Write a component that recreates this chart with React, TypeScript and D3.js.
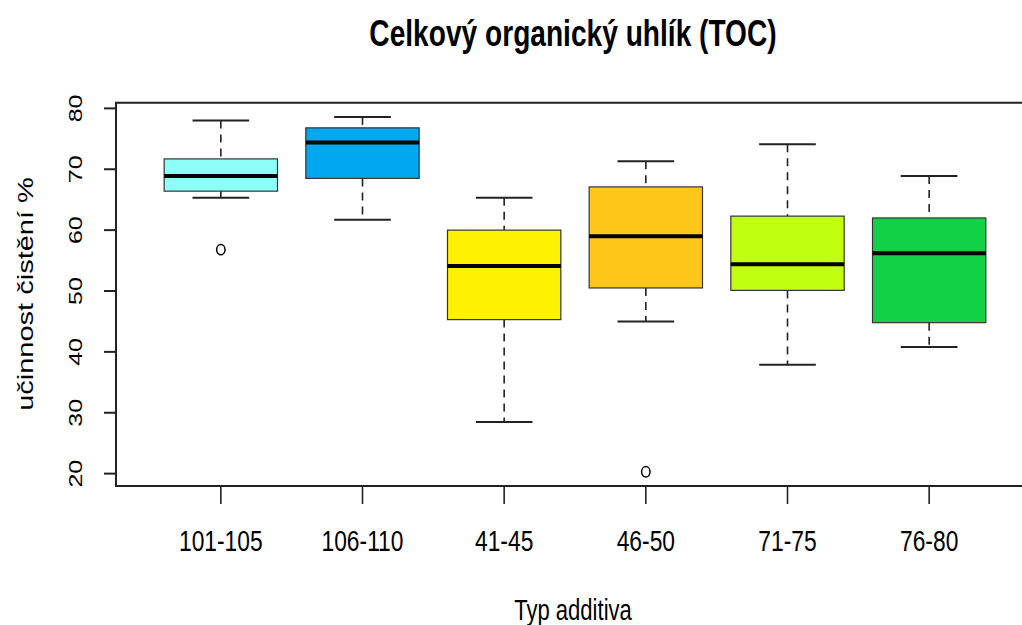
import React from 'react';
import * as d3 from 'd3';

// box statistics
const categories = ['101-105', '106-110', '41-45', '46-50', '71-75', '76-80'];
const whiskerLow = [65.3, 61.7, 28.5, 45.0, 37.9, 40.8];
const q1 = [66.4, 68.5, 45.3, 50.5, 50.1, 44.8];
const medians = [68.9, 74.4, 54.1, 59.0, 54.4, 56.2];
const q3 = [71.7, 76.8, 60.0, 67.1, 62.3, 62.0];
const whiskerHigh = [78.0, 78.6, 65.3, 71.3, 74.1, 68.9];
const outlierCat = [0, 3];
const outlierVal = [56.8, 20.3];
const yTicks = [20, 30, 40, 50, 60, 70, 80];
const fills = ['#8cfff7', '#00a8f0', '#fff200', '#ffc819', '#c0ff10', '#12d147'];

const W = 1022;
const H = 625;
const plot = { left: 116, top: 102.7, bottom: 486, right: 1034 };
const sx = 0.76; // picture is squeezed horizontally
const font = '"Liberation Sans", Arial, sans-serif';

export default function App() {
  const x = d3.scaleLinear().domain([0.26, 6.74]).range([plot.left, plot.right]);
  const lo = d3.min([...whiskerLow, ...outlierVal]) as number;
  const hi = d3.max([...whiskerHigh, ...outlierVal]) as number;
  const pad = (hi - lo) * 0.04;
  const y = d3.scaleLinear().domain([lo - pad, hi + pad]).range([plot.bottom, plot.top]);

  const boxW = (x(1.8) - x(1)) ;
  const capW = boxW / 2;

  const sq = (tx: number, ty: number, rot = 0) =>
    `translate(${tx},${ty}) scale(${sx},1)` + (rot ? ` rotate(${rot})` : '');

  return (
    <svg width={W} height={H} style={{ position: 'absolute', left: 0, top: 0, background: '#fff' }}>
      <rect width={W} height={H} fill="#fff" />
      <text
        transform={sq((plot.left + plot.right) / 2 - 2, 46)}
        textAnchor="middle"
        fontFamily={font}
        fontWeight="bold"
        fontSize={37}
        fill="#000"
      >
        Celkový organický uhlík (TOC)
      </text>

      {categories.map((c, i) => {
        const cx = x(i + 1);
        return (
          <g key={c}>
            <line x1={cx} x2={cx} y1={y(whiskerHigh[i])} y2={y(q3[i])} stroke="#222" strokeWidth={1.6} strokeDasharray="8,6" />
            <line x1={cx} x2={cx} y1={y(q1[i])} y2={y(whiskerLow[i])} stroke="#222" strokeWidth={1.6} strokeDasharray="8,6" />
            <line x1={cx - capW / 2} x2={cx + capW / 2} y1={y(whiskerHigh[i])} y2={y(whiskerHigh[i])} stroke="#222" strokeWidth={2} />
            <line x1={cx - capW / 2} x2={cx + capW / 2} y1={y(whiskerLow[i])} y2={y(whiskerLow[i])} stroke="#222" strokeWidth={2} />
            <rect
              x={cx - boxW / 2}
              y={y(q3[i])}
              width={boxW}
              height={y(q1[i]) - y(q3[i])}
              fill={fills[i]}
              stroke="#333"
              strokeWidth={1.2}
            />
            <line x1={cx - boxW / 2} x2={cx + boxW / 2} y1={y(medians[i])} y2={y(medians[i])} stroke="#000" strokeWidth={4} />
          </g>
        );
      })}

      {outlierCat.map((c, i) => (
        <ellipse key={i} cx={x(c + 1)} cy={y(outlierVal[i])} rx={4.2} ry={5.2} fill="none" stroke="#000" strokeWidth={1.5} />
      ))}

      {/* frame */}
      <path
        d={`M${plot.right},${plot.top}H${plot.left}V${plot.bottom}H${plot.right}`}
        fill="none"
        stroke="#222"
        strokeWidth={2}
      />

      {/* y axis */}
      {yTicks.map((t) => (
        <g key={t}>
          <line x1={plot.left - 12} x2={plot.left} y1={y(t)} y2={y(t)} stroke="#222" strokeWidth={2} />
          <text transform={sq(81.5, y(t), -90)} textAnchor="middle" fontFamily={font} fontSize={25} fill="#000">
            {t}
          </text>
        </g>
      ))}
      <text
        transform={sq(33, 294, -90)}
        textAnchor="middle"
        fontFamily={font}
        fontSize={29}
        fill="#000"
      >
        učinnost čistění %
      </text>

      {/* x axis */}
      {categories.map((c, i) => (
        <g key={c}>
          <line x1={x(i + 1)} x2={x(i + 1)} y1={plot.bottom} y2={plot.bottom + 18} stroke="#222" strokeWidth={1.6} />
          <text transform={sq(x(i + 1), 551)} textAnchor="middle" fontFamily={font} fontSize={30} fill="#000">
            {c}
          </text>
        </g>
      ))}
      <text transform={sq(573, 620)} textAnchor="middle" fontFamily={font} fontSize={29} fill="#000">
        Typ additiva
      </text>
    </svg>
  );
}
